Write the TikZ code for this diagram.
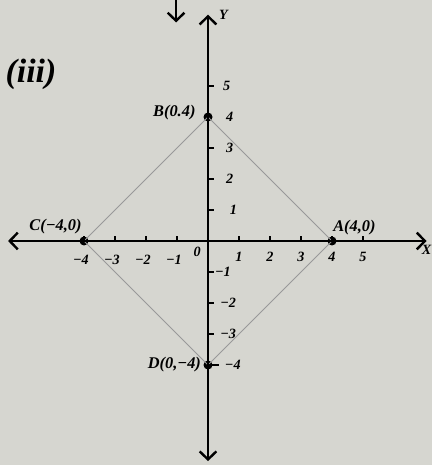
\documentclass[tikz,border=0pt]{standalone}
\usepackage{fontspec}
\setmainfont{Liberation Serif}
\usetikzlibrary{arrows.meta}
\definecolor{paper}{RGB}{214,214,208}

\begin{document}
\begin{tikzpicture}[
        x=1cm,
        y=1cm,
        every node/.style={font=\bfseries\itshape\fontsize{15}{17}\selectfont},
        axis/.style={
            line width=2.2pt,
            {Straight Barb[length=2.6mm,width=5.4mm]}-{Straight Barb[length=2.6mm,width=5.4mm]}
        },
        side/.style={
            draw=gray!80,
            line width=0.7pt
        },
        dot/.style={
            circle,
            fill=black,
            inner sep=0pt,
            minimum size=2.9mm
        },
        ticklabel/.style={font=\bfseries\itshape\fontsize{13}{15}\selectfont}
    ]
        % paper and frame
        \fill[paper] (-6.71,-7.226) rectangle (7.226,7.774);
        \useasboundingbox (-6.71,-7.226) rectangle (7.226,7.774);

        % axis end points
        \coordinate (xl) at (-6.45,0);
        \coordinate (xr) at (7.05,0);
        \coordinate (yb) at (0,-7.1);
        \coordinate (yt) at (0,7.3);

        % the four vertices
        \node[dot] (A) at (4,0) {};
        \node[dot] (B) at (0,4) {};
        \node[dot] (C) at (-4,0) {};
        \node[dot] (D) at (0,-4) {};

        % square through the vertices
        \draw[side] (A.center) -- (B.center) -- (C.center) -- (D.center) -- cycle;

        % axes
        \draw[axis] (xl) -- (xr);
        \draw[axis] (yb) -- (yt);
        \node[ticklabel] (xlab) at (7.05,-0.3) {X};
        \node[ticklabel] (ylab) at (0.5,7.3) {Y};

        % ticks on the x axis
        \foreach \k in {-4,-3,-2,-1,1,2,3,4,5}
            \draw[line width=1.2pt] (\k,0) -- (\k,0.17);
        \foreach \k/\t in {-4/−4,-3/−3,-2/−2,-1/−1}
            \node[ticklabel] (xt\k) at (\k-0.1,-0.62) {\t};
        \foreach \k in {1,...,5}
            \node[ticklabel] (xt\k) at (\k,-0.52) {\k};
        \node[ticklabel] (zero) at (-0.35,-0.35) {0};

        % ticks on the y axis
        \foreach \k in {-3,-2,-1,1,2,3,5}
            \draw[line width=1.2pt] (0,\k) -- (0.2,\k);
        \draw[line width=1.2pt] (D.center) -- (0.35,-4);
        \foreach \k/\x in {5/0.6,4/0.7,3/0.7,2/0.7,1/0.82}
            \node[ticklabel] (yt\k) at (\x,\k) {\k};
        \foreach \k/\t/\x in {-1/−1/0.48,-2/−2/0.65,-3/−3/0.65,-4/−4/0.8}
            \node[ticklabel] (yt\k) at (\x,\k) {\t};

        % vertex labels
        \node[above right,inner sep=1pt] (Alab) at (A.north) {A(4,0)};
        \node[left=8pt] (Blab) at (B.north) {B(0.4)};
        \node[above left,inner sep=2pt] (Clab) at (C.north) {C(−4,0)};
        \node[left=3pt] (Dlab) at (D) {D(0,−4)};

        % part label
        \node[font=\bfseries\itshape\fontsize{31}{34}\selectfont] (part) at (-5.71,5.39) {(iii)};

        % arrow left over from the figure above
        \coordinate (s1) at (-1.03,7.8);
        \coordinate (s2) at (-1.03,7.05);
        \draw[line width=2.2pt, -{Straight Barb[length=2.6mm,width=5.4mm]}] (s1) -- (s2);

    \end{tikzpicture}
\end{document}
